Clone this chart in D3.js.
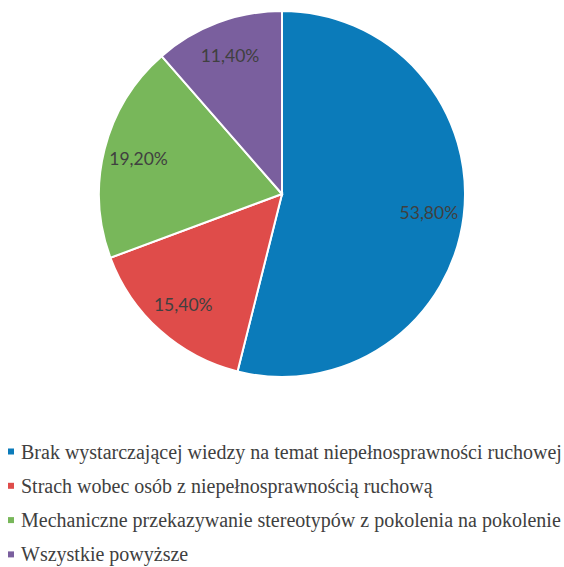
<!DOCTYPE html>
<html>
<head>
<meta charset="utf-8">
<script src="https://cdn.jsdelivr.net/npm/d3@7"></script>
<style>
  body { margin: 0; background: #fff; }
</style>
</head>
<body>
<div id="chart"></div>
<script>
const categories = [
    "Brak wystarczającej wiedzy na temat niepełnosprawności ruchowej",
    "Strach wobec osób z niepełnosprawnością ruchową",
    "Mechaniczne przekazywanie stereotypów z pokolenia na pokolenie",
    "Wszystkie powyższe"
];
const values = [53.8, 15.4, 19.2, 11.4];
const valueLabels = ["53,80%", "15,40%", "19,20%", "11,40%"];
const colors = ["#0b7bba", "#df4c4a", "#78b75a", "#7a5f9e"];

const width = 564, height = 567;
const cx = 282, cy = 194, radius = 183;

const svg = d3.select("#chart")
    .append("svg")
    .attr("width", width)
    .attr("height", height);

const data = categories.map((c, i) => ({ name: c, value: values[i], label: valueLabels[i], color: colors[i] }));

const pie = d3.pie().sort(null).value((d) => d.value);
const arc = d3.arc().innerRadius(0).outerRadius(radius);
const labelArc = d3.arc().innerRadius(148).outerRadius(148);

const g = svg.append("g").attr("transform", `translate(${cx},${cy})`);

const slices = g.selectAll("g.slice")
    .data(pie(data))
    .enter()
    .append("g")
    .attr("class", "slice");

slices.append("path")
    .attr("d", arc)
    .attr("fill", (d) => d.data.color)
    .attr("stroke", "#fff")
    .attr("stroke-width", 2);

slices.append("text")
    .attr("transform", (d) => `translate(${labelArc.centroid(d)})`)
    .attr("text-anchor", "middle")
    .attr("dy", "0.4em")
    .style("font-family", "Lato")
    .style("font-size", "17.5px")
    .style("fill", "#404040")
    .text((d) => d.data.label);

// Legend
const legend = svg.append("g")
    .selectAll("g")
    .data(data)
    .enter()
    .append("g")
    .attr("transform", (d, i) => `translate(8, ${451.5 + i * 34.3})`);

legend.append("rect")
    .attr("x", 0)
    .attr("y", -3)
    .attr("width", 6)
    .attr("height", 6)
    .attr("fill", (d) => d.color);

legend.append("text")
    .attr("x", 13)
    .attr("y", 7)
    .style("font-family", "\"Liberation Serif\"")
    .style("font-size", "20px")
    .style("fill", "#404040")
    .text((d) => d.name);
</script>
</body>
</html>
